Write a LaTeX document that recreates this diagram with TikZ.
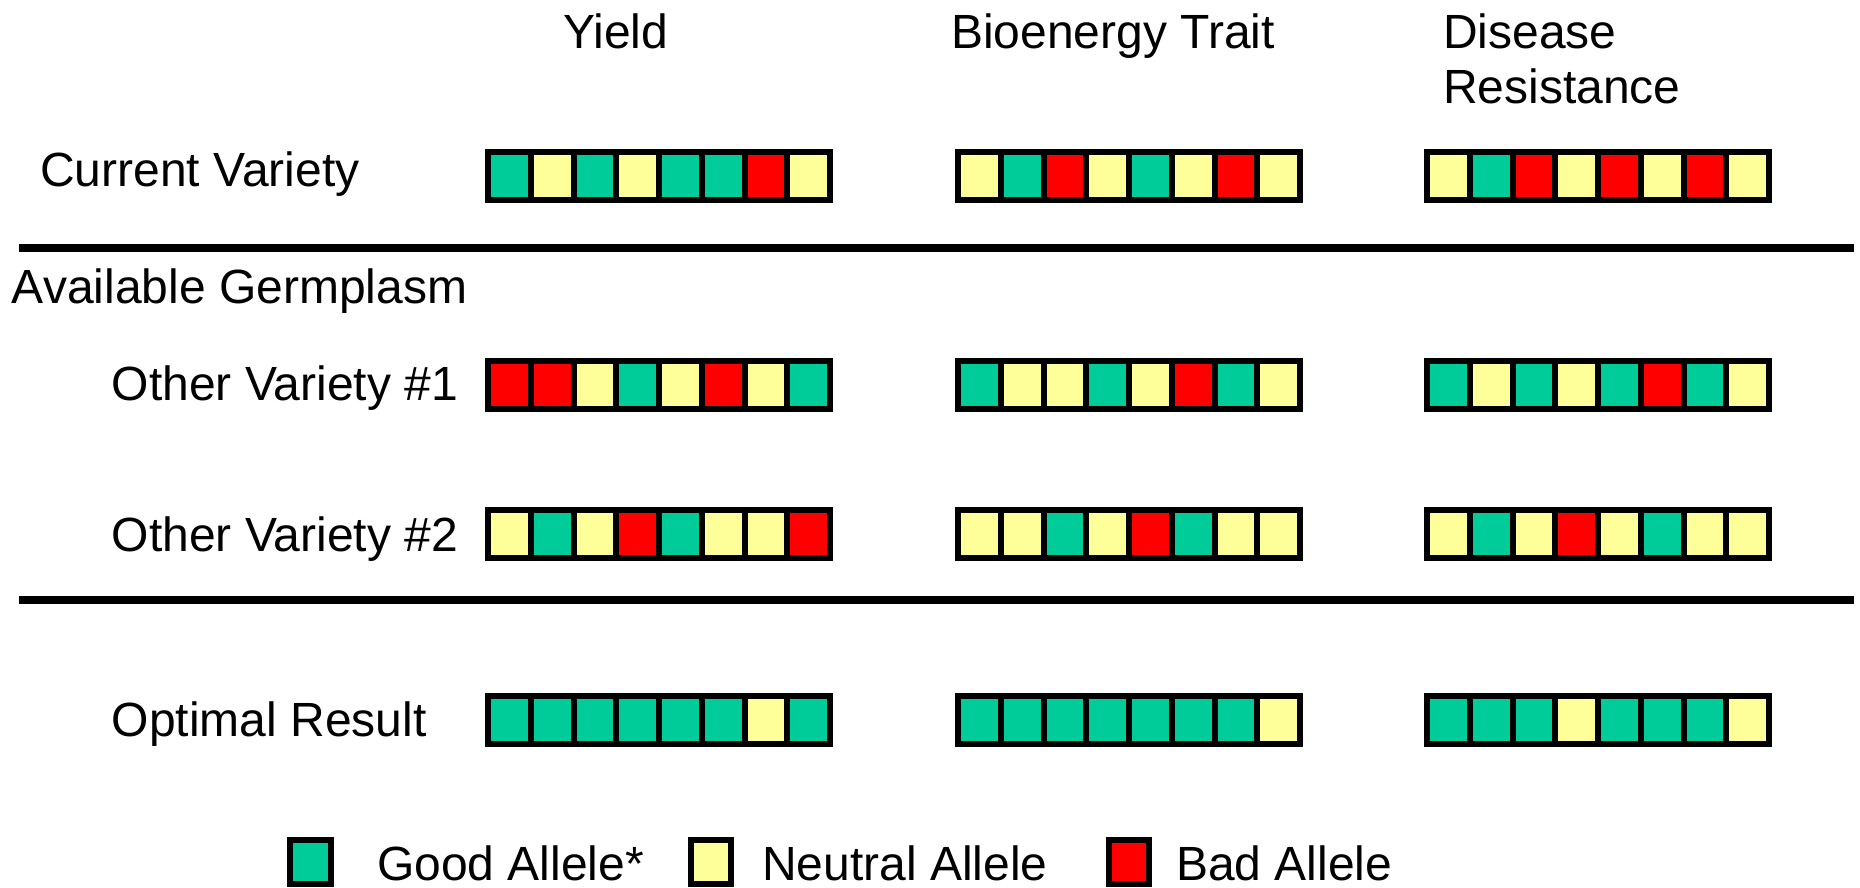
\documentclass[tikz,border=0pt]{standalone}
\usepackage{fontspec}
\setmainfont{Liberation Sans}
\definecolor{aG}{RGB}{0,204,153}
\definecolor{aY}{RGB}{255,255,153}
\definecolor{aR}{RGB}{255,0,0}
\tikzset{
  lbl/.style={anchor=base west, inner sep=0pt, font=\fontsize{48}{55}\selectfont},
  cellbox/.style={draw=black, line width=6pt},
  rulebar/.style={line width=8pt},
}
\newcommand\allelebar[3]{%
  \foreach \c [count=\i from 0] in {#3}{
    \filldraw[cellbox, fill=\c] ({#1+3+\i*42.75},{#2+3}) rectangle ({#1+3+(\i+1)*42.75},{#2+51});
  }}
\begin{document}
\begin{tikzpicture}[x=1pt,y=-1pt]
\useasboundingbox[fill=white] (0,0) rectangle (1860,888);

% column headers
\node[lbl] (hyield) at (563,48.6) {Yield};
\node[lbl] (hbio) at (951,48.6) {Bioenergy Trait};
\node[lbl] (hdis1) at (1443,48.3) {Disease};
\node[lbl] (hdis2) at (1443,104) {Resistance};

% row labels
\node[lbl] (lcur) at (40,186.7) {Current Variety};
\node[lbl] (lavail) at (11.7,303.3) {Available Germplasm};
\node[lbl] (lov1) at (111.7,400) {Other Variety \#1};
\node[lbl] (lov2) at (111.7,551) {Other Variety \#2};
\node[lbl] (lopt) at (111.7,736) {Optimal Result};

% rules
\draw[rulebar] (19,248) -- (1854,248);
\draw[rulebar] (19,600) -- (1854,600);

% current variety
\allelebar{485}{149}{aG,aY,aG,aY,aG,aG,aR,aY}
\allelebar{955}{149}{aY,aG,aR,aY,aG,aY,aR,aY}
\allelebar{1424}{149}{aY,aG,aR,aY,aR,aY,aR,aY}
% other variety 1
\allelebar{485}{358}{aR,aR,aY,aG,aY,aR,aY,aG}
\allelebar{955}{358}{aG,aY,aY,aG,aY,aR,aG,aY}
\allelebar{1424}{358}{aG,aY,aG,aY,aG,aR,aG,aY}
% other variety 2
\allelebar{485}{507}{aY,aG,aY,aR,aG,aY,aY,aR}
\allelebar{955}{507}{aY,aY,aG,aY,aR,aG,aY,aY}
\allelebar{1424}{507}{aY,aG,aY,aR,aY,aG,aY,aY}
% optimal
\allelebar{485}{693}{aG,aG,aG,aG,aG,aG,aY,aG}
\allelebar{955}{693}{aG,aG,aG,aG,aG,aG,aG,aY}
\allelebar{1424}{693}{aG,aG,aG,aY,aG,aG,aG,aY}

% legend
\filldraw[cellbox, fill=aG] (290,840) rectangle (331,884);
\node[lbl] (lgood) at (377,880) {Good Allele*};
\filldraw[cellbox, fill=aY] (691,840) rectangle (731,884);
\node[lbl] (lneut) at (762,880) {Neutral Allele};
\filldraw[cellbox, fill=aR] (1109,840) rectangle (1149,884);
\node[lbl] (lbad) at (1176,880) {Bad Allele};
\end{tikzpicture}
\end{document}
